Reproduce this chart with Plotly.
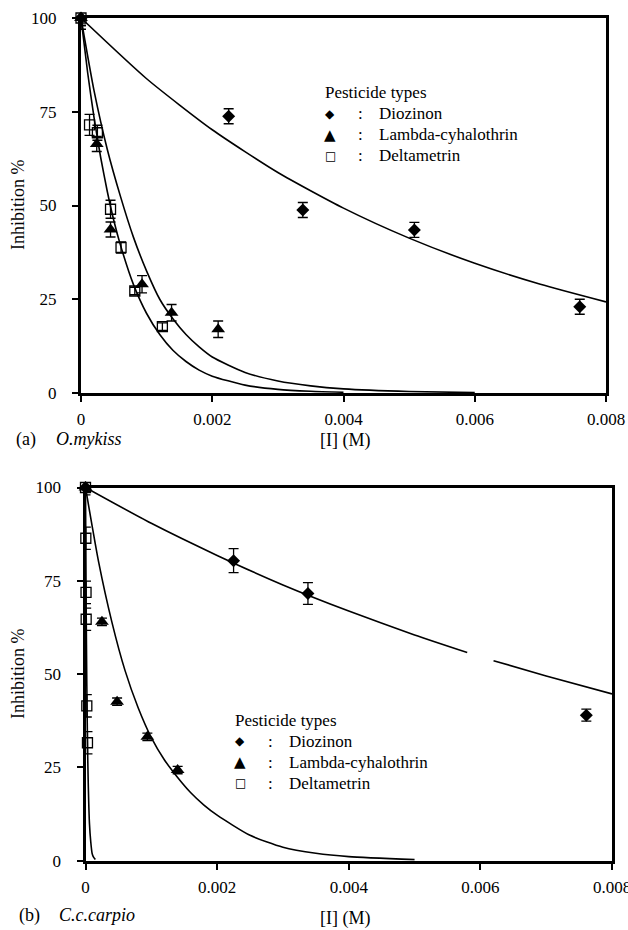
import plotly.graph_objects as go

# ---------------- data ----------------
# Panel (a) O.mykiss
a_dioz_x = [0, 0.00225, 0.00338, 0.00508, 0.0076]
a_dioz_y = [100, 73.8, 48.8, 43.5, 23.0]
a_dioz_e = [2.0, 2.0, 2.0, 2.0, 2.0]

a_lamb_x = [0, 0.00024, 0.00045, 0.00093, 0.00138, 0.00209]
a_lamb_y = [100, 66.4, 43.6, 29.0, 21.4, 17.0]
a_lamb_e = [3.0, 2.0, 2.0, 2.3, 2.2, 2.2]

a_delt_x = [0, 0.00013, 0.00025, 0.00045, 0.00061, 0.00082, 0.00124]
a_delt_y = [100, 71.5, 69.4, 49.0, 38.8, 27.2, 17.7]
a_delt_e = [2.0, 2.8, 2.0, 2.4, 1.5, 1.0, 1.0]

# fitted curves
a_dioz_fit_x = [0, 0.001, 0.002, 0.003, 0.004, 0.005, 0.006, 0.007, 0.008]
a_dioz_fit_y = [100, 83.8, 70.2, 58.8, 49.3, 41.3, 34.6, 29.0, 24.3]
a_lamb_fit_x = [0, 0.0002, 0.0004, 0.0006, 0.0008, 0.001, 0.0012, 0.0014, 0.0016, 0.0018, 0.002,
                0.0025, 0.003, 0.0035, 0.004, 0.005, 0.006]
a_lamb_fit_y = [100, 80.5, 65.0, 52.5, 41.5, 32.5, 25.0, 19.8, 15.6, 12.3, 9.6,
                5.5, 3.2, 1.9, 1.1, 0.4, 0.1]
a_delt_fit_x = [0, 0.0001, 0.0002, 0.0003, 0.0004, 0.0005, 0.0006, 0.0008, 0.001, 0.0012, 0.0014,
                0.0016, 0.0018, 0.002, 0.0025, 0.003, 0.0035, 0.004]
a_delt_fit_y = [100, 85.6, 73.3, 62.8, 53.8, 46.0, 39.5, 28.9, 21.2, 15.6, 11.4,
                8.4, 6.1, 4.5, 2.1, 0.96, 0.45, 0.2]

# Panel (b) C.c.carpio
b_dioz_x = [0, 0.00225, 0.00338, 0.00761]
b_dioz_y = [100, 80.4, 71.6, 39.0]
b_dioz_e = [1.0, 3.2, 2.9, 1.6]

b_lamb_x = [0, 0.00025, 0.00048, 0.00094, 0.0014]
b_lamb_y = [100, 64.0, 42.6, 33.2, 24.3]
b_lamb_e = [1.0, 1.0, 1.0, 1.0, 1.0]

b_delt_x = [0, 0.000005, 0.000008, 0.00001, 0.00002, 0.00003]
b_delt_y = [100, 86.4, 71.9, 64.7, 41.5, 31.6]
b_delt_e = [2.0, 3.0, 3.0, 3.0, 3.0, 3.0]

b_dioz_fit_x = [0, 0.001, 0.002, 0.003, 0.004, 0.005, 0.0058, None, 0.0062, 0.007, 0.008]
b_dioz_fit_y = [100, 90.4, 81.8, 73.9, 66.9, 60.5, 55.8, None, 53.6, 49.5, 44.7]
b_lamb_fit_x = [0, 0.0002, 0.0004, 0.0006, 0.0008, 0.001, 0.0012, 0.0014, 0.0016, 0.0018, 0.002,
                0.0025, 0.003, 0.0035, 0.004, 0.005]
b_lamb_fit_y = [100, 80, 64, 51, 41, 33, 27, 22.3, 18.2, 14.9, 12.2,
                6.8, 3.6, 2.0, 1.1, 0.3]
b_delt_fit_x = [0, 0.00001, 0.00002, 0.00003, 0.00004, 0.00006, 0.00008, 0.0001, 0.00012, 0.00015]
b_delt_fit_y = [100, 68, 47, 32, 22, 10, 5, 2, 1, 0.3]

x_ticks = [0, 0.002, 0.004, 0.006, 0.008]
x_tick_text = ["0", "0.002", "0.004", "0.006", "0.008"]
y_ticks = [0, 25, 50, 75, 100]
y_tick_text = ["0", "25", "50", "75", "100"]

legend_title = "Pesticide types"
legend_names = ["Diozinon", "Lambda-cyhalothrin", "Deltametrin"]
legend_glyphs = ["◆", "▲", "□"]

# ---------------- figure ----------------
W, H = 628, 930
FONT = "Liberation Serif, DejaVu Serif, serif"
fig = go.Figure()


def px(x):
    return x / W


def py(y):
    return 1 - y / H


def add_panel(xa, ya, dioz, lamb, delt, fits):
    for fx, fy in fits:
        fig.add_trace(go.Scatter(x=fx, y=fy, mode="lines", xaxis=xa, yaxis=ya,
                                 line=dict(color="black", width=1.6, shape="spline", smoothing=0.6),
                                 connectgaps=False, showlegend=False, hoverinfo="skip"))
    specs = [
        (dioz, dict(symbol="diamond", size=10, color="black")),
        (lamb, dict(symbol="triangle-up", size=12, color="black")),
        (delt, dict(symbol="square-open", size=10, color="black", line=dict(width=1.3, color="black"))),
    ]
    for (x, y, e), mk in specs:
        fig.add_trace(go.Scatter(x=x, y=y, mode="markers", xaxis=xa, yaxis=ya, marker=mk,
                                 error_y=dict(type="data", array=e, visible=True, color="black",
                                              thickness=1.3, width=5),
                                 showlegend=False, cliponaxis=False))


add_panel("x", "y", (a_dioz_x, a_dioz_y, a_dioz_e), (a_lamb_x, a_lamb_y, a_lamb_e),
          (a_delt_x, a_delt_y, a_delt_e),
          [(a_dioz_fit_x, a_dioz_fit_y), (a_lamb_fit_x, a_lamb_fit_y), (a_delt_fit_x, a_delt_fit_y)])
add_panel("x2", "y2", (b_dioz_x, b_dioz_y, b_dioz_e), (b_lamb_x, b_lamb_y, b_lamb_e),
          (b_delt_x, b_delt_y, b_delt_e),
          [(b_dioz_fit_x, b_dioz_fit_y), (b_lamb_fit_x, b_lamb_fit_y), (b_delt_fit_x, b_delt_fit_y)])

axis_common = dict(showgrid=False, zeroline=False, showline=True, linecolor="black", linewidth=3,
                   mirror=True, ticks="outside", ticklen=6, tickwidth=2, tickcolor="black",
                   automargin=False, ticklabeloverflow="allow",
                   tickfont=dict(family=FONT, size=17, color="black"))

fig.update_layout(
    width=W, height=H, margin=dict(l=0, r=0, t=0, b=0, autoexpand=False),
    paper_bgcolor="white", plot_bgcolor="white", showlegend=False,
    font=dict(family=FONT, color="black"),
    xaxis=dict(domain=[px(81), px(606)], range=[0, 0.008], tickvals=x_ticks, ticktext=x_tick_text,
               anchor="y", ticklabelstandoff=3, **axis_common),
    yaxis=dict(domain=[py(393), py(18)], range=[0, 100], tickvals=y_ticks, ticktext=y_tick_text,
               anchor="x", ticklabelstandoff=12, **axis_common),
    xaxis2=dict(domain=[px(85.5), px(612)], range=[0, 0.008], tickvals=x_ticks, ticktext=x_tick_text,
                anchor="y2", ticklabelstandoff=3, **axis_common),
    yaxis2=dict(domain=[py(860.7), py(487.5)], range=[0, 100], tickvals=y_ticks, ticktext=y_tick_text,
                anchor="x2", ticklabelstandoff=12, **axis_common),
)

ann = []


def text(x, y, s, size=17, xanchor="left", angle=0, family=FONT):
    ann.append(dict(x=px(x), y=py(y), xref="paper", yref="paper", text=s, showarrow=False,
                    xanchor=xanchor, yanchor="middle", textangle=angle,
                    font=dict(family=family, size=size, color="black")))


# axis titles and captions
text(18, 205, "Inhibition %", 18, "center", -90)
text(18, 674, "Inhibition %", 18, "center", -90)
text(345, 441, "[I] (M)", 18, "center")
text(345, 918, "[I] (M)", 18, "center")
text(14, 439, "(a)", 18)
text(54, 439, "<i>O.mykiss</i>", 18)
text(17, 915, "(b)", 18)
text(57, 915, "<i>C.c.carpio</i>", 18)

# legends
glyph_sizes = [12, 15, 12]
for (tx, ty, sx, cx, lx) in [(323, 93, 330, 360, 377), (233, 720, 240, 270, 287)]:
    text(tx, ty, legend_title, 17)
    for i, name in enumerate(legend_names):
        yy = ty + 21 * (i + 1)
        text(sx, yy, legend_glyphs[i], glyph_sizes[i], "center", family="DejaVu Sans")
        text(cx, yy, ":", 17, "center")
        text(lx, yy, name, 17)

fig.update_layout(annotations=ann)
fig.write_html("out.html", config={"displayModeBar": False},
               post_script="document.body.style.margin='0px';document.body.style.overflow='hidden';")
